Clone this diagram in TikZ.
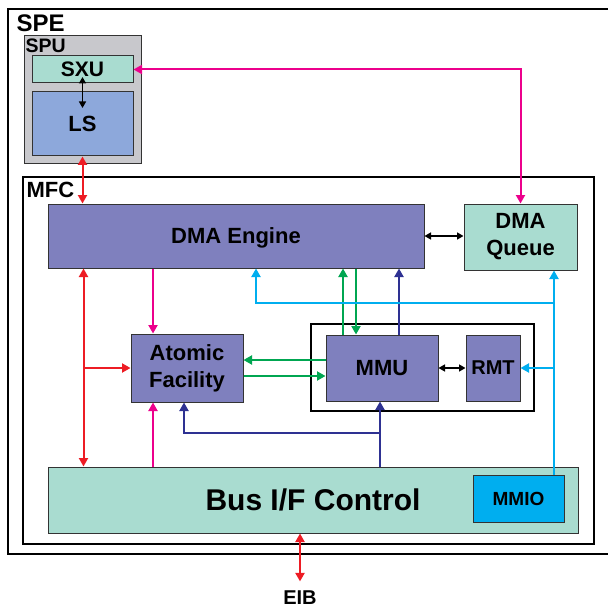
\documentclass[tikz,border=0pt]{standalone}
\usepackage{fontspec}
\setmainfont{Liberation Sans}
\usetikzlibrary{arrows.meta,calc}

\definecolor{edge}{RGB}{51,51,51}
\definecolor{spugray}{RGB}{200,200,204}
\definecolor{mint}{RGB}{169,220,208}
\definecolor{lsblue}{RGB}{141,168,219}
\definecolor{peri}{RGB}{127,128,190}
\definecolor{mmioblue}{RGB}{0,174,239}
\definecolor{cRed}{RGB}{237,28,36}
\definecolor{cMag}{RGB}{236,0,140}
\definecolor{cGreen}{RGB}{0,166,81}
\definecolor{cNavy}{RGB}{46,49,146}
\definecolor{cCyan}{RGB}{0,174,239}

\tikzset{
  frame/.style={draw=black, line width=1.3pt, fill=white, inner sep=0pt},
  unit/.style={draw=edge, line width=1pt, inner sep=0pt, align=center,
    font=\fontsize{22}{27}\selectfont\bfseries},
  oneline/.style={text depth=0pt},
  title/.style={inner sep=0pt, anchor=base west, font=\bfseries},
  wire/.style={line width=2pt, >={Triangle[length=8.5pt,width=9pt]}},
  redL/.style={wire, draw=cRed},
  magL/.style={wire, draw=cMag},
  grnL/.style={wire, draw=cGreen},
  navL/.style={wire, draw=cNavy},
  cynL/.style={wire, draw=cCyan},
  blkL/.style={line width=1.5pt, draw=black, >={Triangle[length=6.5pt,width=7pt]}},
}

\begin{document}
\begin{tikzpicture}[x=1pt,y=-1pt]
\useasboundingbox (0,0) rectangle (608,607);
\clip (0,0) rectangle (608,607);

% outer SPE frame and SPU
\node[frame, minimum width=604pt, minimum height=545pt] (spe) at (310,281.5) {};
\node[title, font=\fontsize{24}{28}\selectfont\bfseries] (speT) at ([xshift=9pt,yshift=-23pt]spe.north west) {SPE};

\node[draw=edge, line width=1pt, fill=spugray, minimum width=117pt, minimum height=128pt, inner sep=0pt] (spu) at (82.5,100) {};
\node[title, font=\fontsize{19.5}{23}\selectfont\bfseries] (spuT) at ([xshift=2pt,yshift=-17pt]spu.north west) {SPU};

\node[unit, oneline, fill=mint, minimum width=101pt, minimum height=27pt, font=\fontsize{21}{25}\selectfont\bfseries] (sxu) at (82.5,69.5) {SXU};
\node[unit, oneline, fill=lsblue, minimum width=101pt, minimum height=64pt] (ls) at (82.5,124) {LS};

% MFC
\node[frame, minimum width=571pt, minimum height=367pt] (mfc) at (308.5,360.5) {};
\node[title, font=\fontsize{22}{26}\selectfont\bfseries] (mfcT) at ([xshift=4pt,yshift=-21pt]mfc.north west) {MFC};

\node[unit, oneline, fill=peri, minimum width=376pt, minimum height=64pt] (dma) at (236,236) {DMA Engine};
\node[unit, fill=mint, minimum width=113pt, minimum height=66pt] (dmaq) at (520.5,237) {DMA\\Queue};
\node[unit, fill=peri, minimum width=112pt, minimum height=68pt] (atomic) at (187,368) {Atomic\\Facility};

\node[draw=black, line width=1.2pt, fill=white, minimum width=223pt, minimum height=87pt, inner sep=0pt] (mmubox) at (422.5,367.5) {};
\node[unit, oneline, fill=peri, minimum width=112pt, minimum height=66pt] (mmu) at (382,368) {MMU};
\node[unit, oneline, fill=peri, minimum width=54pt, minimum height=66pt, font=\fontsize{20}{24}\selectfont\bfseries] (rmt) at (493,368) {RMT};

\node[unit, oneline, fill=mint, minimum width=530pt, minimum height=66pt, font=\fontsize{30}{36}\selectfont\bfseries] (bus) at (313,500) {Bus I/F Control};
\node[unit, oneline, fill=mmioblue, minimum width=91pt, minimum height=47pt, font=\fontsize{19}{23}\selectfont\bfseries] (mmio) at (518.5,498.5) {MMIO};

\node[inner sep=0pt, text depth=0pt, font=\fontsize{20}{24}\selectfont\bfseries] (eib) at (300,597.5) {EIB};

% SXU <-> LS
\coordinate (sxuIn) at (82.5,77);
\coordinate (lsIn) at (82.5,108);
\draw[blkL,<->] (sxuIn) -- (lsIn);

% SXU <-> DMA Queue
\draw[magL,<->] (sxu.east) -| (dmaq.north);

% LS <-> DMA Engine, DMA Engine <-> Bus, branch to Atomic Facility
\draw[redL,<->] (ls.south) -- (ls.south |- dma.north);
\draw[redL,<->] ([xshift=36pt]dma.south west) -- ([xshift=36pt]bus.north west);
\draw[redL,->] ([xshift=36pt]dma.south west |- atomic.west) -- (atomic.west);

% DMA Engine -> Atomic, Bus -> Atomic
\draw[magL,->] ([xshift=-34pt]atomic.north |- dma.south) -- ([xshift=-34pt]atomic.north);
\draw[magL,->] ([xshift=-34pt]atomic.south |- bus.north) -- ([xshift=-34pt]atomic.south);

% DMA Engine <-> DMA Queue
\draw[blkL,<->] (dma.east) -- (dma.east -| dmaq.west);

% MMU <-> DMA Engine
\draw[grnL,->] ([xshift=-39pt]mmu.north) -- ([xshift=-39pt]mmu.north |- dma.south);
\draw[grnL,->] ([xshift=-26pt]mmu.north |- dma.south) -- ([xshift=-26pt]mmu.north);
\draw[navL,->] ([xshift=17pt]mmu.north) -- ([xshift=17pt]mmu.north |- dma.south);

% MMU <-> Atomic Facility
\draw[grnL,->] ([yshift=8pt]mmu.west) -- ([yshift=8pt]mmu.west -| atomic.east);
\draw[grnL,->] ([yshift=-8pt]mmu.west -| atomic.east) -- ([yshift=-8pt]mmu.west);

% MMU <-> RMT
\draw[blkL,<->] (mmu.east) -- (rmt.west);

% Bus -> MMU and Atomic Facility
\coordinate (navTurn) at (380,433);
\draw[navL,->] ([xshift=-2pt]mmu.south |- bus.north) -- ([xshift=-2pt]mmu.south);
\draw[navL,->] (navTurn) -| ([xshift=-3pt]atomic.south);

% MMIO -> DMA Queue, RMT, DMA Engine
\coordinate (cyX) at ([xshift=33.5pt]dmaq.south);
\coordinate (cyTurn) at (554,303);
\draw[cynL,->] (mmio.north -| cyX) -- (cyX);
\draw[cynL,->] (cyX |- rmt.east) -- (rmt.east);
\draw[cynL,->] (cyTurn) -| ([xshift=20pt]dma.south);

% Bus <-> EIB
\draw[redL,<->] (eib.north |- bus.south) -- ([yshift=9pt]eib.north);
\end{tikzpicture}
\end{document}
